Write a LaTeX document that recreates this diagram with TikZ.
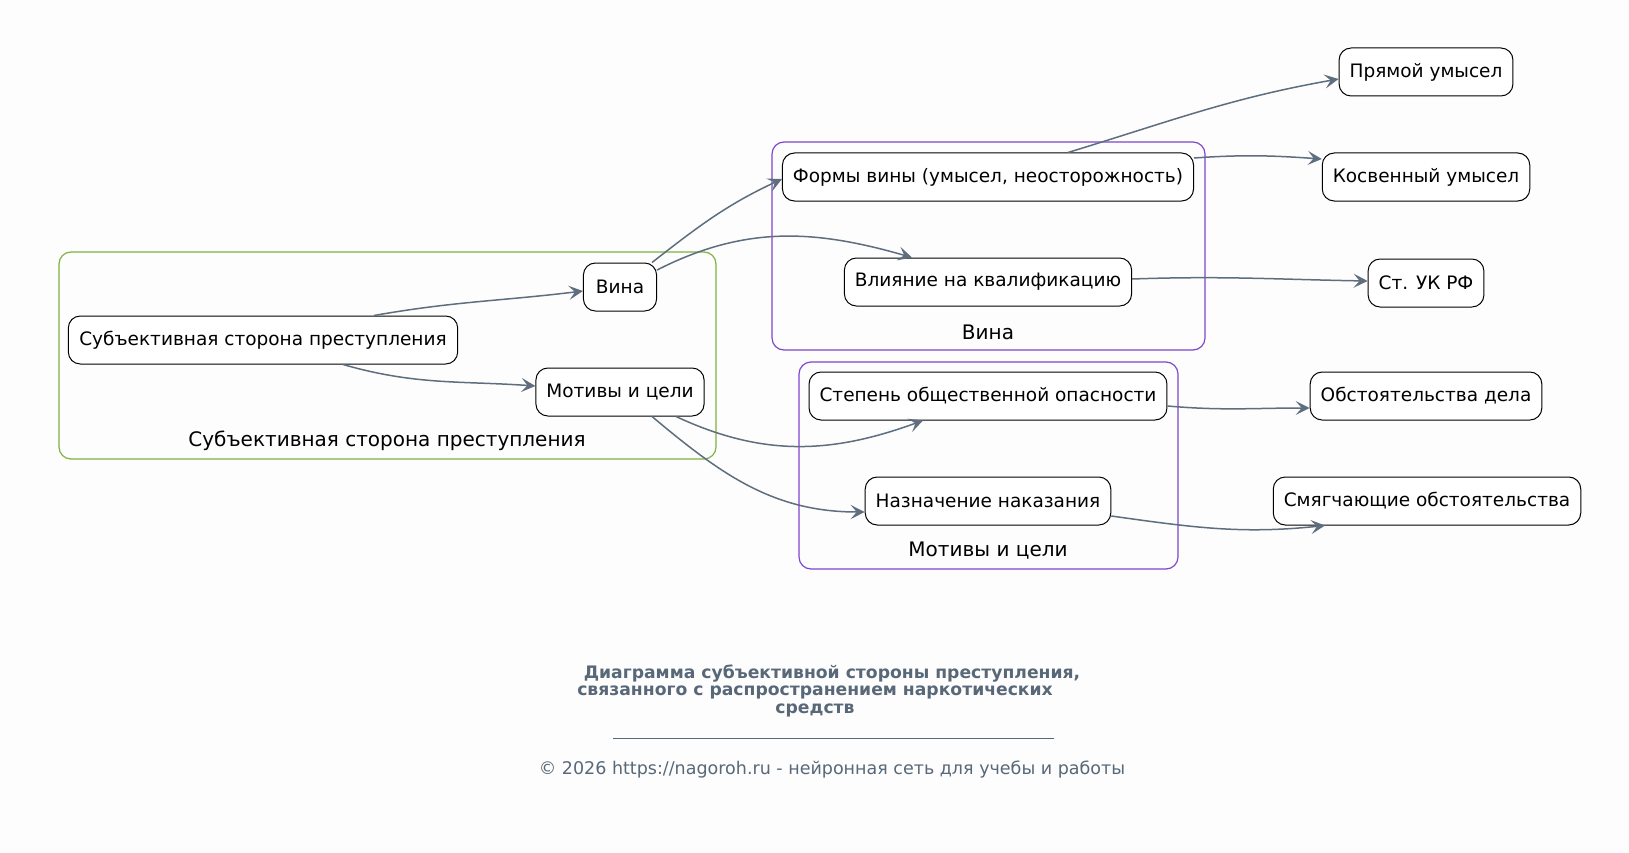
\documentclass[tikz,border=0pt]{standalone}
\usepackage{fontspec}
\setmainfont{DejaVu Sans}
\usepackage{tikz}
\usetikzlibrary{arrows.meta,calc,positioning}
\tikzset{>={Stealth[length=14pt,width=14pt,inset=6pt]}}
\definecolor{linkgray}{RGB}{94,110,126}
\definecolor{titlegray}{RGB}{88,104,120}
\definecolor{clustgreen}{RGB}{128,178,62}
\definecolor{clustviolet}{RGB}{126,70,204}
\definecolor{paper}{RGB}{253,253,253}
\tikzset{
  box/.style={draw=black, line width=1pt, rounded corners=12pt, fill=white,
    minimum height=48pt, inner xsep=10.5pt, font=\fontsize{18.5}{22}\selectfont},
  link/.style={->, draw=linkgray, line width=1.5pt},
  clust/.style={line width=1.2pt, rounded corners=12pt},
  clustlabel/.style={font=\fontsize{20}{24}\selectfont},
  titletext/.style={text=titlegray, font=\bfseries\fontsize{17.2}{20}\selectfont}
}

\begin{document}
\begin{tikzpicture}[x=1pt,y=1pt]
  \fill[paper] (0,0) rectangle (1629,-853);
  \useasboundingbox (0,0) rectangle (1629,-853);

  % groups
  \draw[clust, draw=clustgreen] (59,-252) rectangle (716,-459);
  \draw[clust, draw=clustviolet] (772,-142) rectangle (1205,-350);
  \draw[clust, draw=clustviolet] (799,-362) rectangle (1178,-569);
  \node[clustlabel] (lsubj) at (387,-441) {Субъективная сторона преступления};
  \node[clustlabel] (lvina) at (988,-332) {Вина};
  \node[clustlabel] (lmotiv) at (988,-551) {Мотивы и цели};

  % nodes
  \node[box, inner xsep=11pt] (subj) at (263,-340) {Субъективная сторона преступления};
  \node[box, inner xsep=12.5pt] (vina) at (620,-287) {Вина};
  \node[box] (motiv) at (620,-392) {Мотивы и цели};
  \node[box] (formy) at (988,-177) {Формы вины (умысел, неосторожность)};
  \node[box] (vliyanie) at (988,-282) {Влияние на квалификацию};
  \node[box] (stepen) at (988,-396) {Степень общественной опасности};
  \node[box] (naznach) at (988,-501) {Назначение наказания};
  \node[box] (pryam) at (1426,-72) {Прямой умысел};
  \node[box] (kosv) at (1426,-177) {Косвенный умысел};
  \node[box] (uk) at (1426,-283) {Ст. УК РФ};
  \node[box] (obst) at (1426,-396) {Обстоятельства дела};
  \node[box] (smyag) at (1427,-501) {Смягчающие обстоятельства};

  % links
  \draw[link] ([xshift=111pt]subj.north) to[out=10,in=187] ([yshift=-4pt]vina.west);
  \draw[link] ([xshift=80pt]subj.south) to[out=-16,in=176] ([yshift=6pt]motiv.west);
  \draw[link] ([xshift=32pt]vina.north) to[out=38,in=205] ([yshift=-2pt]formy.west);
  \draw[link] ([yshift=17pt]vina.east) to[out=27,in=164] ([xshift=-76pt]vliyanie.north);
  \draw[link] ([xshift=56pt]motiv.south) to[out=-25,in=200] ([xshift=-65pt]stepen.south);
  \draw[link] ([xshift=32pt]motiv.south) to[out=-40,in=180] ([yshift=-11pt]naznach.west);
  \draw[link] ([xshift=80pt]formy.north) to[out=17,in=190] ([yshift=-7pt]pryam.west);
  \draw[link] ([yshift=19pt]formy.east) to[out=4,in=176] ([yshift=18pt]kosv.west);
  \draw[link] ([yshift=3pt]vliyanie.east) to[out=2,in=179] ([yshift=2pt]uk.west);
  \draw[link] ([yshift=-10pt]stepen.east) to[out=-5,in=180] ([yshift=-12pt]obst.west);
  \draw[link] ([yshift=-15pt]naznach.east) to[out=-8,in=186] ([xshift=-102pt]smyag.south);

  % caption
  \node[titletext] (title1) at (832,-674) {Диаграмма субъективной стороны преступления,};
  \node[titletext] (title2) at (815,-692) {связанного с распространением наркотических};
  \node[titletext] (title3) at (815,-710) {средств};
  \draw[titlegray, line width=0.8pt] (613,-738) -- (1054,-738);
  \node[text=titlegray, font=\fontsize{17.5}{20}\selectfont] (footer) at (832,-770)
    {© 2026 https://nagoroh.ru - нейронная сеть для учебы и работы};
\end{tikzpicture}
\end{document}
